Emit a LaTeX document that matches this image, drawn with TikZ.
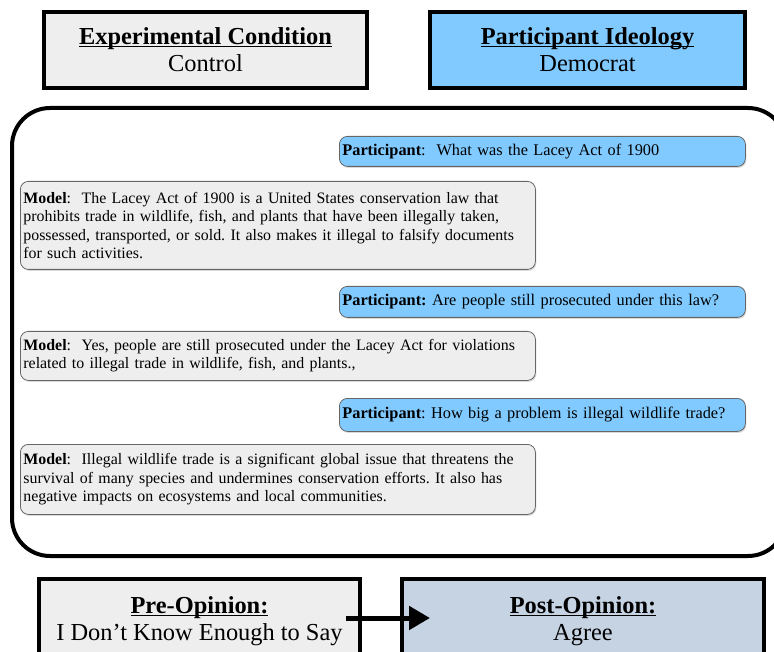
\documentclass[tikz,border=0pt]{standalone}
\usepackage{fontspec}
\setmainfont{Liberation Serif}
\usetikzlibrary{shadows,arrows.meta,calc}
\definecolor{boxgray}{HTML}{EEEEEE}
\definecolor{partblue}{HTML}{80CAFF}
\definecolor{postblue}{HTML}{C6D3E3}
\definecolor{bubbleline}{HTML}{666666}
\frenchspacing
\newsavebox{\headbox}
\newcommand{\headunder}[1]{\sbox{\headbox}{\textbf{#1}}%
  \rlap{\rule[-2.6pt]{\wd\headbox}{1.3pt}}\usebox{\headbox}}
\tikzset{
  infobox/.style={draw,line width=4pt,anchor=north west,align=center,
    font=\fontsize{24.4}{27}\selectfont},
  chatmsg/.style={draw=bubbleline,line width=0.8pt,rounded corners=8pt,anchor=north west,
    inner xsep=3pt,inner ysep=0pt,align=left,
    drop shadow={opacity=0.3,shadow xshift=1pt,shadow yshift=-1.5pt}},
  modelmsg/.style={chatmsg,fill=boxgray,text width=509pt,font=\fontsize{15.9}{18.3}\selectfont},
  partmsg/.style={chatmsg,fill=partblue,text width=400pt,font=\fontsize{16.3}{18.3}\selectfont}
}
\begin{document}
\begin{tikzpicture}[x=1pt,y=-1pt]
\useasboundingbox (0,0) rectangle (774,652);
\clip (0,0) rectangle (774,652);
% condition and ideology
\node[infobox,fill=boxgray,minimum width=323pt,minimum height=76pt] (cond) at (42,10)
  {\headunder{Experimental Condition}\\Control};
\node[infobox,fill=partblue,minimum width=315pt,minimum height=76pt] (ideo) at (428,10)
  {\headunder{Participant Ideology}\\Democrat};
% conversation frame
\draw[line width=4pt,rounded corners=38pt] (12,108) rectangle (786,556);
\node[partmsg,minimum height=30pt] (q1) at (339,136)
  {\textbf{Participant}:\ \ What was the Lacey Act of 1900};
\node[modelmsg,minimum height=88pt] (a1) at (20,181)
  {\textbf{Model}:\ \ The Lacey Act of 1900 is a United States conservation law that\\
   prohibits trade in wildlife, fish, and plants that have been illegally taken,\\
   possessed, transported, or sold. It also makes it illegal to falsify documents\\
   for such activities.};
\node[partmsg,minimum height=31pt] (q2) at (339,286)
  {\textbf{Participant:} Are people still prosecuted under this law?};
\node[modelmsg,minimum height=49pt] (a2) at (20,331)
  {\textbf{Model}:\ \ Yes, people are still prosecuted under the Lacey Act for violations\\
   related to illegal trade in wildlife, fish, and plants.,};
\node[partmsg,minimum height=33pt] (q3) at (339,398)
  {\textbf{Participant}: How big a problem is illegal wildlife trade?};
\node[modelmsg,minimum height=70pt] (a3) at (20,444)
  {\textbf{Model}:\ \ Illegal wildlife trade is a significant global issue that threatens the\\
   survival of many species and undermines conservation efforts. It also has\\
   negative impacts on ecosystems and local communities.};
% opinions
\node[infobox,fill=boxgray,minimum width=321pt,minimum height=85pt] (pre) at (37,577)
  {\headunder{Pre-Opinion:}\\I Don’t Know Enough to Say};
\node[infobox,fill=postblue,minimum width=362pt,minimum height=85pt] (post) at (400,577)
  {\headunder{Post-Opinion:}\\Agree};
\coordinate (arrstart) at ($(pre.east)+(-16,-3.5)$);
\coordinate (arrend) at ($(post.west)+(30,-3.5)$);
\draw[line width=5pt,-{Triangle[length=21pt,width=23pt]}] (arrstart) -- (arrend);
\end{tikzpicture}
\end{document}
